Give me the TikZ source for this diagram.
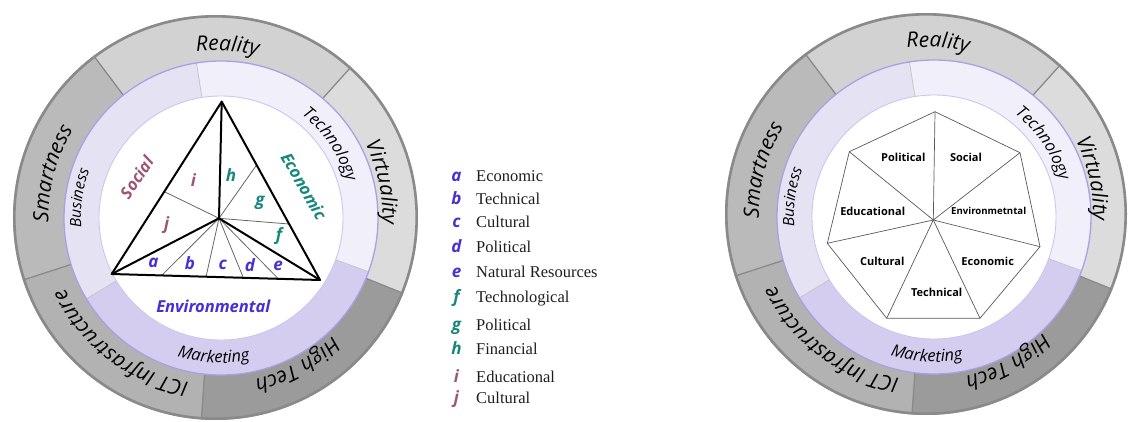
\documentclass[tikz,border=0pt]{standalone}
\usepackage{fontspec}
\setmainfont{Liberation Serif}
\newfontfamily\osans{Open Sans}
\usetikzlibrary{calc,decorations.text}
\definecolor{ringedge}{HTML}{8A8A8A}
\definecolor{cReality}{HTML}{D2D2D2}
\definecolor{cVirtual}{HTML}{DCDCDC}
\definecolor{cHigh}{HTML}{9B9B9B}
\definecolor{cICT}{HTML}{B2B2B2}
\definecolor{cSmart}{HTML}{BABABA}
\definecolor{cBus}{HTML}{E5E2F3}
\definecolor{cTech}{HTML}{F1F0FA}
\definecolor{cMark}{HTML}{D5CDF0}
\definecolor{lavedge}{HTML}{AC9FE3}
\definecolor{whiteedge}{HTML}{CDC6EE}
\definecolor{cSoc}{HTML}{9C5576}
\definecolor{cEco}{HTML}{17877D}
\definecolor{cEnv}{HTML}{4A2ED4}
\definecolor{legtext}{HTML}{1E1E1E}
\definecolor{heptline}{HTML}{5A5A5A}
\newcommand\outerfont{\osans\itshape\fontsize{21}{25}\selectfont}
\newcommand\innerfont{\osans\itshape\fontsize{16.5}{20}\selectfont}
\newcommand\busfont{\osans\itshape\fontsize{15.5}{19}\selectfont}
\tikzset{
  thickedge/.style={line width=2pt, black, line join=round, line cap=round},
  thinedge/.style={line width=0.8pt, black!60},
  heptedge/.style={line width=0.7pt, heptline, line join=round},
  sepline/.style={line width=1.3pt, ringedge},
  lavsep/.style={line width=0.8pt, black!22},
  outertext/.style={decorate, decoration={text along path, text align=center, text={|\outerfont|#1}}},
  innertext/.style={decorate, decoration={text along path, text align=center, text={|\innerfont|#1}}},
  bustext/.style={decorate, decoration={text along path, text align=center, text={|\busfont|#1}}},
  trilab/.style={font=\osans\bfseries\itshape\fontsize{17}{20}\selectfont, inner sep=0pt},
  sidelab/.style={font=\osans\bfseries\itshape\fontsize{16.5}{20}\selectfont, inner sep=0pt},
  heptlab/.style={font=\osans\bfseries\fontsize{11}{13}\selectfont, inner sep=0pt},
  legletter/.style={font=\osans\bfseries\itshape\fontsize{17}{20}\selectfont, inner sep=0pt, anchor=base},
  legword/.style={font=\fontsize{16.5}{20}\selectfont, text=legtext, inner sep=0pt, anchor=base west},
}
% #1 outer centre, #2 inner centre, #3 outer radius
\newcommand\drawwheel[3]{%
  \fill[cVirtual] (#1) -- ($(#1)+(-22:#3)$) arc[start angle=-22,end angle=48,radius=#3] -- cycle;
  \fill[cReality] (#1) -- ($(#1)+(48:#3)$) arc[start angle=48,end angle=127,radius=#3] -- cycle;
  \fill[cSmart] (#1) -- ($(#1)+(127:#3)$) arc[start angle=127,end angle=198,radius=#3] -- cycle;
  \fill[cICT] (#1) -- ($(#1)+(198:#3)$) arc[start angle=198,end angle=266,radius=#3] -- cycle;
  \fill[cHigh] (#1) -- ($(#1)+(266:#3)$) arc[start angle=266,end angle=338,radius=#3] -- cycle;
  \foreach \a in {-22,48,127,198,266} {\draw[sepline] (#1) -- ($(#1)+(\a:#3)$);}
  \draw[line width=2.6pt, ringedge] (#1) circle[radius=#3-1.3pt];
  \fill[cTech] (#2) -- ($(#2)+(-20:157pt)$) arc[start angle=-20,end angle=99,radius=157pt] -- cycle;
  \fill[cBus] (#2) -- ($(#2)+(99:157pt)$) arc[start angle=99,end angle=211,radius=157pt] -- cycle;
  \fill[cMark] (#2) -- ($(#2)+(211:157pt)$) arc[start angle=211,end angle=340,radius=157pt] -- cycle;
  \foreach \a in {-20,99,211} {\draw[lavsep] (#2) -- ($(#2)+(\a:157pt)$);}
  \draw[line width=1.3pt, lavedge] (#2) circle[radius=157pt];
  \fill[white] (#2) circle[radius=122pt];
  \draw[line width=0.9pt, whiteedge] (#2) circle[radius=122pt];
  \path[outertext=Reality] ($(#1)+(146:167pt)$) arc[start angle=146,end angle=26,radius=167pt];
  \path[outertext=Virtuality] ($(#1)+(72:167pt)$) arc[start angle=72,end angle=-48,radius=167pt];
  \path[outertext=High Tech] ($(#1)+(-1:167pt)$) arc[start angle=-1,end angle=-121,radius=167pt];
  \path[outertext=ICT Infrastructure] ($(#1)+(293:167pt)$) arc[start angle=293,end angle=173,radius=167pt];
  \path[outertext=Smartness] ($(#1)+(225:167pt)$) arc[start angle=225,end angle=105,radius=167pt];
  \path[innertext=Technology] ($(#2)+(84:131pt)$) arc[start angle=84,end angle=-16,radius=131pt];
  \path[bustext=Business] ($(#2)+(222:140pt)$) arc[start angle=222,end angle=122,radius=140pt];
  \path[innertext=Marketing] ($(#2)+(-143:145pt)$) arc[start angle=-143,end angle=-43,radius=145pt];
}
\begin{document}
\begin{tikzpicture}[x=1pt,y=1pt]
\useasboundingbox (0,0) rectangle (1130,421);
% ---------- left wheel ----------
\coordinate (OL) at (215.5,203.5);
\coordinate (IL) at (221,203);
\drawwheel{OL}{IL}{202.5pt}
% triangle
\coordinate (TA) at (221.7,319.3);
\coordinate (TL) at (111.7,147);
\coordinate (TR) at (320,141);
\coordinate (TC) at (219,202.7);
\coordinate (Pij) at ($(TA)!0.522!(TL)$);
\coordinate (Phg) at ($(TA)!0.355!(TR)$);
\coordinate (Pgf) at ($(TA)!0.686!(TR)$);
\coordinate (Pab) at ($(TL)!0.24!(TR)$);
\coordinate (Pbc) at ($(TL)!0.453!(TR)$);
\coordinate (Pcd) at ($(TL)!0.632!(TR)$);
\coordinate (Pde) at ($(TL)!0.80!(TR)$);
\foreach \p in {Pij,Phg,Pgf,Pab,Pbc,Pcd,Pde} {\draw[thinedge] (TC) -- (\p);}
\draw[thickedge] (TA) -- (TL) -- (TR) -- cycle;
\draw[thickedge] (TC) -- (TA);
\draw[thickedge] (TC) -- (TL);
\draw[thickedge] (TC) -- (TR);
\node[trilab, text=cEnv] (la) at (153.3,157.7) {a};
\node[trilab, text=cEnv] (lb) at (190,157.5) {b};
\node[trilab, text=cEnv] (lc) at (222.7,156) {c};
\node[trilab, text=cEnv] (ld) at (250,156) {d};
\node[trilab, text=cEnv] (le) at (278,155) {e};
\node[trilab, text=cEco] (lf) at (279,185.3) {f};
\node[trilab, text=cEco] (lg) at (260,218) {g};
\node[trilab, text=cEco] (lh) at (231,246) {h};
\node[trilab, text=cSoc] (li) at (193.3,241) {i};
\node[trilab, text=cSoc] (lj) at (166.7,196) {j};
\node[sidelab, text=cSoc, rotate=56] (social) at (136.7,243.5) {Social};
\node[sidelab, text=cEco, rotate=-60] (economic) at (304,235) {Economic};
\node[sidelab, text=cEnv] (environ) at (213.3,114.3) {Environmental};
% ---------- legend ----------
\node[legletter, text=cEnv] (ka) at (456.5,239.3) {a};
\node[legword] (wa) at (476,239.3) {Economic};
\node[legletter, text=cEnv] (kb) at (456.5,216) {b};
\node[legword] (wb) at (476,216) {Technical};
\node[legletter, text=cEnv] (kc) at (456.5,193.7) {c};
\node[legword] (wc) at (476,193.7) {Cultural};
\node[legletter, text=cEnv] (kd) at (456.5,168.7) {d};
\node[legword] (wd) at (476,168.7) {Political};
\node[legletter, text=cEnv] (ke) at (456.5,143.7) {e};
\node[legword] (we) at (476,143.7) {Natural Resources};
\node[legletter, text=cEco] (kf) at (456.5,118.3) {f};
\node[legword] (wf) at (476,118.3) {Technological};
\node[legletter, text=cEco] (kg) at (456.5,90.3) {g};
\node[legword] (wg) at (476,90.3) {Political};
\node[legletter, text=cEco] (kh) at (456.5,67) {h};
\node[legword] (wh) at (476,67) {Financial};
\node[legletter, text=cSoc] (ki) at (456.5,38.3) {i};
\node[legword] (wi) at (476,38.3) {Educational};
\node[legletter, text=cSoc] (kj) at (456.5,17.7) {j};
\node[legword] (wj) at (476,17.7) {Cultural};
% ---------- right wheel ----------
\coordinate (OR) at (926,207);
\coordinate (IR) at (934,204);
\drawwheel{OR}{IR}{201pt}
\coordinate (HC) at (933.3,201);
\coordinate (H1) at (935,309.3);
\coordinate (H2) at (1020,268.3);
\coordinate (H3) at (1040,174.3);
\coordinate (H4) at (980,102.7);
\coordinate (H5) at (886.7,102.7);
\coordinate (H6) at (827.3,177.7);
\coordinate (H7) at (849.3,269.3);
\draw[heptedge] (H1) -- (H2) -- (H3) -- (H4) -- (H5) -- (H6) -- (H7) -- cycle;
\foreach \h in {H1,H2,H3,H4,H5,H6,H7} {\draw[heptedge] (HC) -- (\h);}
\node[heptlab] (political) at (903.3,263.7) {Political};
\node[heptlab] (socialr) at (966,263.7) {Social};
\node[heptlab] (educ) at (872.7,209.7) {Educational};
\node[heptlab, font=\osans\bfseries\fontsize{9.6}{12}\selectfont] (envr) at (988.7,209.7) {Environmetntal};
\node[heptlab] (cult) at (882.3,159.3) {Cultural};
\node[heptlab] (econ) at (987.7,159.3) {Economic};
\node[heptlab] (techn) at (936.7,128.7) {Technical};
\end{tikzpicture}
\end{document}
